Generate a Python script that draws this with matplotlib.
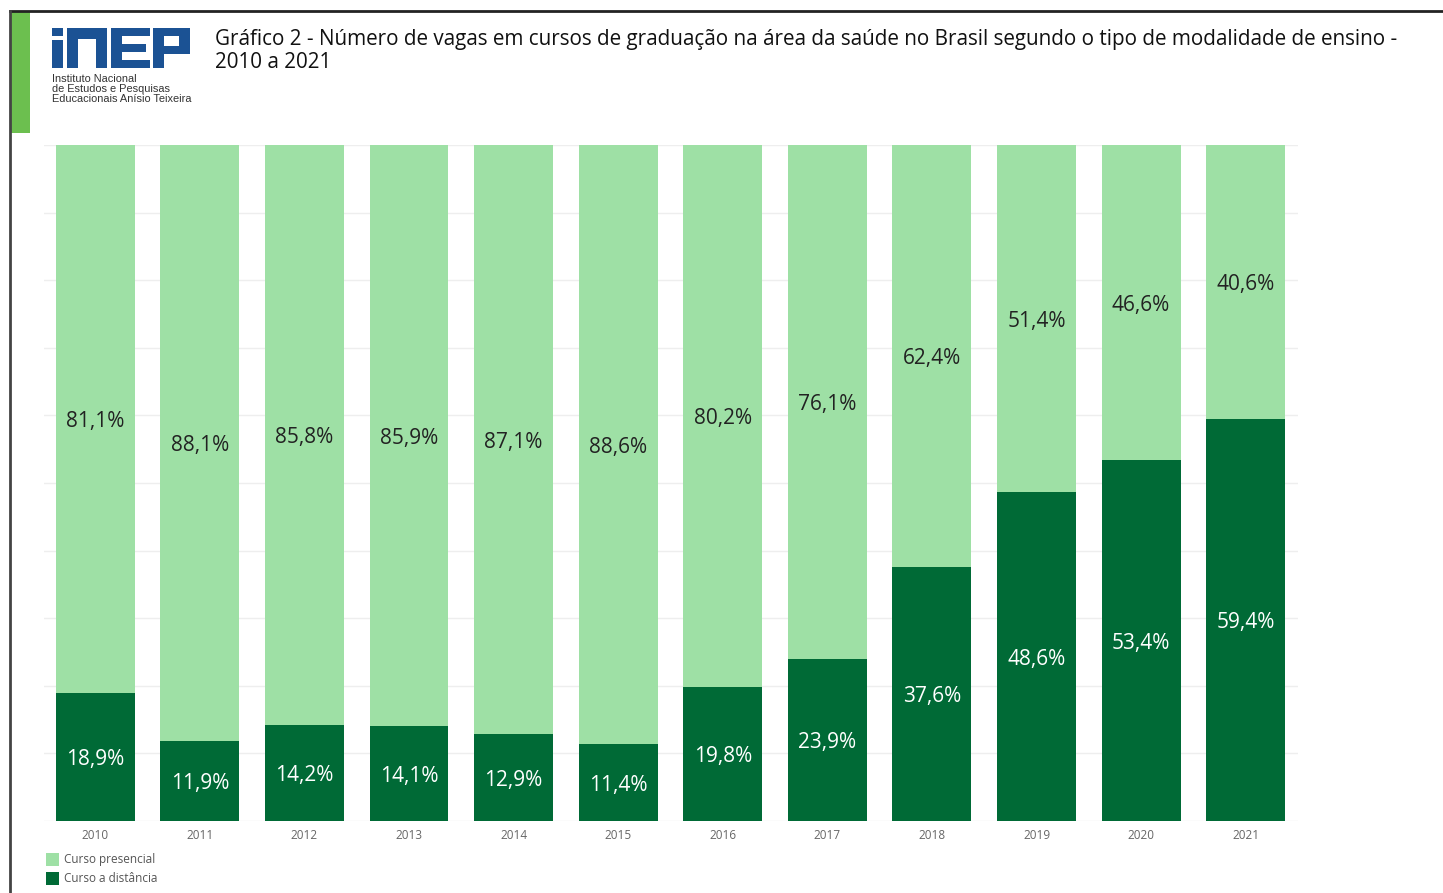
import matplotlib.pyplot as plt
from matplotlib.patches import Rectangle
from matplotlib.lines import Line2D

anos = ["2010", "2011", "2012", "2013", "2014", "2015",
        "2016", "2017", "2018", "2019", "2020", "2021"]
presencial = [81.1, 88.1, 85.8, 85.9, 87.1, 88.6, 80.2, 76.1, 62.4, 51.4, 46.6, 40.6]
distancia = [18.9, 11.9, 14.2, 14.1, 12.9, 11.4, 19.8, 23.9, 37.6, 48.6, 53.4, 59.4]

COR_CLARA = "#9ee0a5"
COR_ESCURA = "#006a36"
COR_LOGO = "#1b5294"

plt.rcParams['font.family'] = ['Open Sans', 'DejaVu Sans']

fig = plt.figure(figsize=(14.43, 8.93), dpi=100)
W, H = 1443, 893

def fx(px):
    return px / W

def fy(py):
    return 1 - py / H

def caixa(x0, y0, x1, y1, cor):
    # retangulo em pixels (origem no canto superior esquerdo)
    fig.add_artist(Rectangle((fx(x0), fy(y1)), fx(x1) - fx(x0), fy(y0) - fy(y1),
                             color=cor, transform=fig.transFigure, lw=0))

# moldura e faixa verde
fig.add_artist(Line2D([fx(10), 1], [fy(11), fy(11)], color="#222222", lw=2))
fig.add_artist(Line2D([fx(10), fx(10)], [fy(11), 0], color="#444444", lw=2))
caixa(11, 12, 30, 133, "#6cbf4f")

# logo inep (blocos)
caixa(52, 28, 63, 36, COR_LOGO)        # i ponto
caixa(52, 40, 63, 68, COR_LOGO)        # i haste
caixa(67, 28, 107, 39, COR_LOGO)       # n topo
caixa(67, 28, 78, 68, COR_LOGO)
caixa(96, 28, 107, 68, COR_LOGO)
caixa(111, 28, 150, 36, COR_LOGO)      # E
caixa(111, 28, 122, 68, COR_LOGO)
caixa(111, 44, 146, 52, COR_LOGO)
caixa(111, 60, 150, 68, COR_LOGO)
caixa(153, 28, 164, 68, COR_LOGO)      # P
caixa(153, 28, 190, 36, COR_LOGO)
caixa(179, 28, 190, 54, COR_LOGO)
caixa(153, 46, 190, 54, COR_LOGO)

fig.text(fx(52), fy(74), "Instituto Nacional\nde Estudos e Pesquisas\nEducacionais Anísio Teixeira",
         fontsize=7.9, color="#333333", family="Liberation Sans", va="top",
         linespacing=1.0)

fig.text(fx(215), fy(51), "Gráfico 2 - Número de vagas em cursos de graduação na área da saúde no Brasil segundo o tipo de modalidade de ensino -\n2010 a 2021",
         fontsize=14.9, color="#111111", va="center", linespacing=1.1)

ax = fig.add_axes([fx(44), fy(821), fx(1298) - fx(44), fy(145) - fy(821)])
x = range(len(anos))
ax.bar(x, distancia, width=0.755, color=COR_ESCURA, label="Curso a distância")
ax.bar(x, presencial, width=0.755, bottom=distancia, color=COR_CLARA,
       label="Curso presencial")

for i in x:
    d = distancia[i]
    p = presencial[i]
    ax.text(i, d / 2 - 0.4, f"{d:.1f}%".replace(".", ","), ha="center", va="center",
            color="white", fontsize=15)
    ax.text(i, d + p / 2 - 0.4, f"{p:.1f}%".replace(".", ","), ha="center", va="center",
            color="#222222", fontsize=15)

ax.set_xlim(-0.49, 11.5)
ax.set_ylim(0, 100)
ax.set_yticks(range(0, 101, 10))
ax.yaxis.grid(True, color="#eeeeee", lw=1)
ax.set_axisbelow(True)
ax.tick_params(axis="y", left=False, labelleft=False)
ax.set_xticks(list(x))
ax.set_xticklabels(anos, fontsize=8.5, color="#666666")
ax.tick_params(axis="x", length=0, pad=6)
for s in ax.spines.values():
    s.set_visible(False)

# legenda
for yy, cor, txt in [(860, COR_CLARA, "Curso presencial"), (879, COR_ESCURA, "Curso a distância")]:
    caixa(46, yy - 7, 59, yy + 6, cor)
    fig.text(fx(64), fy(yy), txt, fontsize=8.5, color="#555555", va="center")

fig.savefig("out.png", dpi=100)
